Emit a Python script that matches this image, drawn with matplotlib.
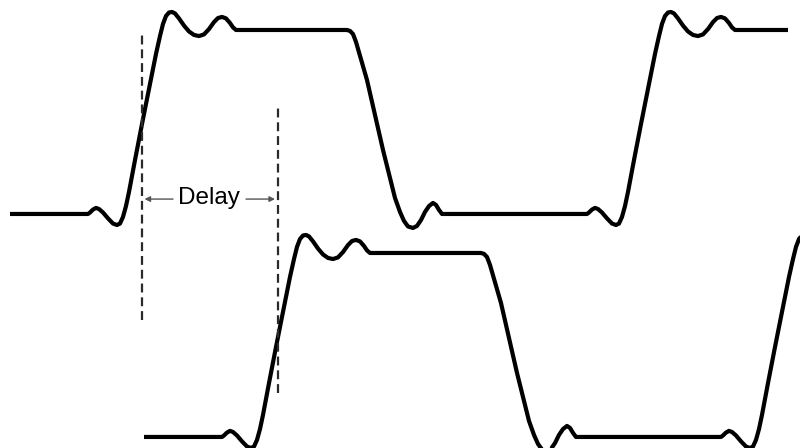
import numpy as np
import matplotlib
matplotlib.use("Agg")
import matplotlib.pyplot as plt

# edge shapes: time offset from edge start, level (0 = low, 1 = high)
RISE_T = [0, 2, 5, 8, 11, 15, 20, 25, 29, 32, 35, 38, 41, 47, 54, 62, 68, 72, 75, 78,
          81, 84, 87, 91, 96, 101, 106, 111, 116, 121, 126, 130, 134, 138, 142, 145, 148]
RISE_V = [0, 0.008, 0.024, 0.033, 0.027, 0.008, -0.024, -0.052, -0.060, -0.052, -0.016,
          0.043, 0.120, 0.293, 0.489, 0.707, 0.870, 0.967, 1.033, 1.076, 1.095, 1.098,
          1.090, 1.063, 1.024, 0.992, 0.973, 0.967, 0.976, 1.005, 1.043, 1.065, 1.071,
          1.063, 1.038, 1.014, 1.0]
FALL_T = [0, 3, 6, 9, 20, 36, 48, 53, 57, 61, 66, 70, 74, 78, 82, 86, 89, 92, 95]
FALL_V = [1.0, 0.995, 0.978, 0.935, 0.728, 0.348, 0.087, 0.011, -0.038, -0.068, -0.076,
          -0.065, -0.033, 0.011, 0.043, 0.060, 0.049, 0.022, 0]

# the input signal
SIG_START, SIG_END = 10, 788
EDGES = [("rise", 88), ("fall", 347), ("rise", 587)]
DELAY = 134            # output is the same signal, delayed
TOP_OFFSET = 1.212     # vertical spacing between the two traces

MARK_T = [141.5, 278]
MARK_Y = [(0.636, 2.190), (0.239, 1.788)]
ARROW_Y = 1.293


def build(shift):
    t = [SIG_START + shift]
    v = [0.0]
    for kind, t0 in EDGES:
        tt, vv = (RISE_T, RISE_V) if kind == "rise" else (FALL_T, FALL_V)
        t += [t0 + shift + x for x in tt]
        v += list(vv)
    t.append(SIG_END + shift); v.append(v[-1])
    return np.array(t), np.array(v)


fig = plt.figure(figsize=(8, 4.48), dpi=100)
ax = fig.add_axes([0, 0, 1, 1])
ax.set_xlim(0, 800); ax.set_ylim(-0.06, 2.375)
ax.axis("off")

t1, v1 = build(0)
t2, v2 = build(DELAY)
kw = dict(color="black", lw=3.0, solid_joinstyle="round", solid_capstyle="butt")
ax.plot(t1, v1 + TOP_OFFSET, **kw)
ax.plot(t2, v2, **kw)

for x, (y0, y1) in zip(MARK_T, MARK_Y):
    ax.plot([x, x], [y0, y1], color="#2a2a2a", lw=1.6, ls=(0, (4, 2.2)))

ax.text(209, ARROW_Y + 0.005, "Delay", ha="center", va="center", fontsize=17.5,
        family=["Liberation Sans", "DejaVu Sans"], color="black")
ap = dict(arrowstyle="-|>", color="#555555", lw=1.0, mutation_scale=8, shrinkA=0, shrinkB=0)
ax.annotate("", xy=(MARK_T[0] + 3, ARROW_Y), xytext=(173, ARROW_Y), arrowprops=ap)
ax.annotate("", xy=(MARK_T[1] - 3, ARROW_Y), xytext=(246, ARROW_Y), arrowprops=ap)

plt.savefig("out.png", dpi=100)
